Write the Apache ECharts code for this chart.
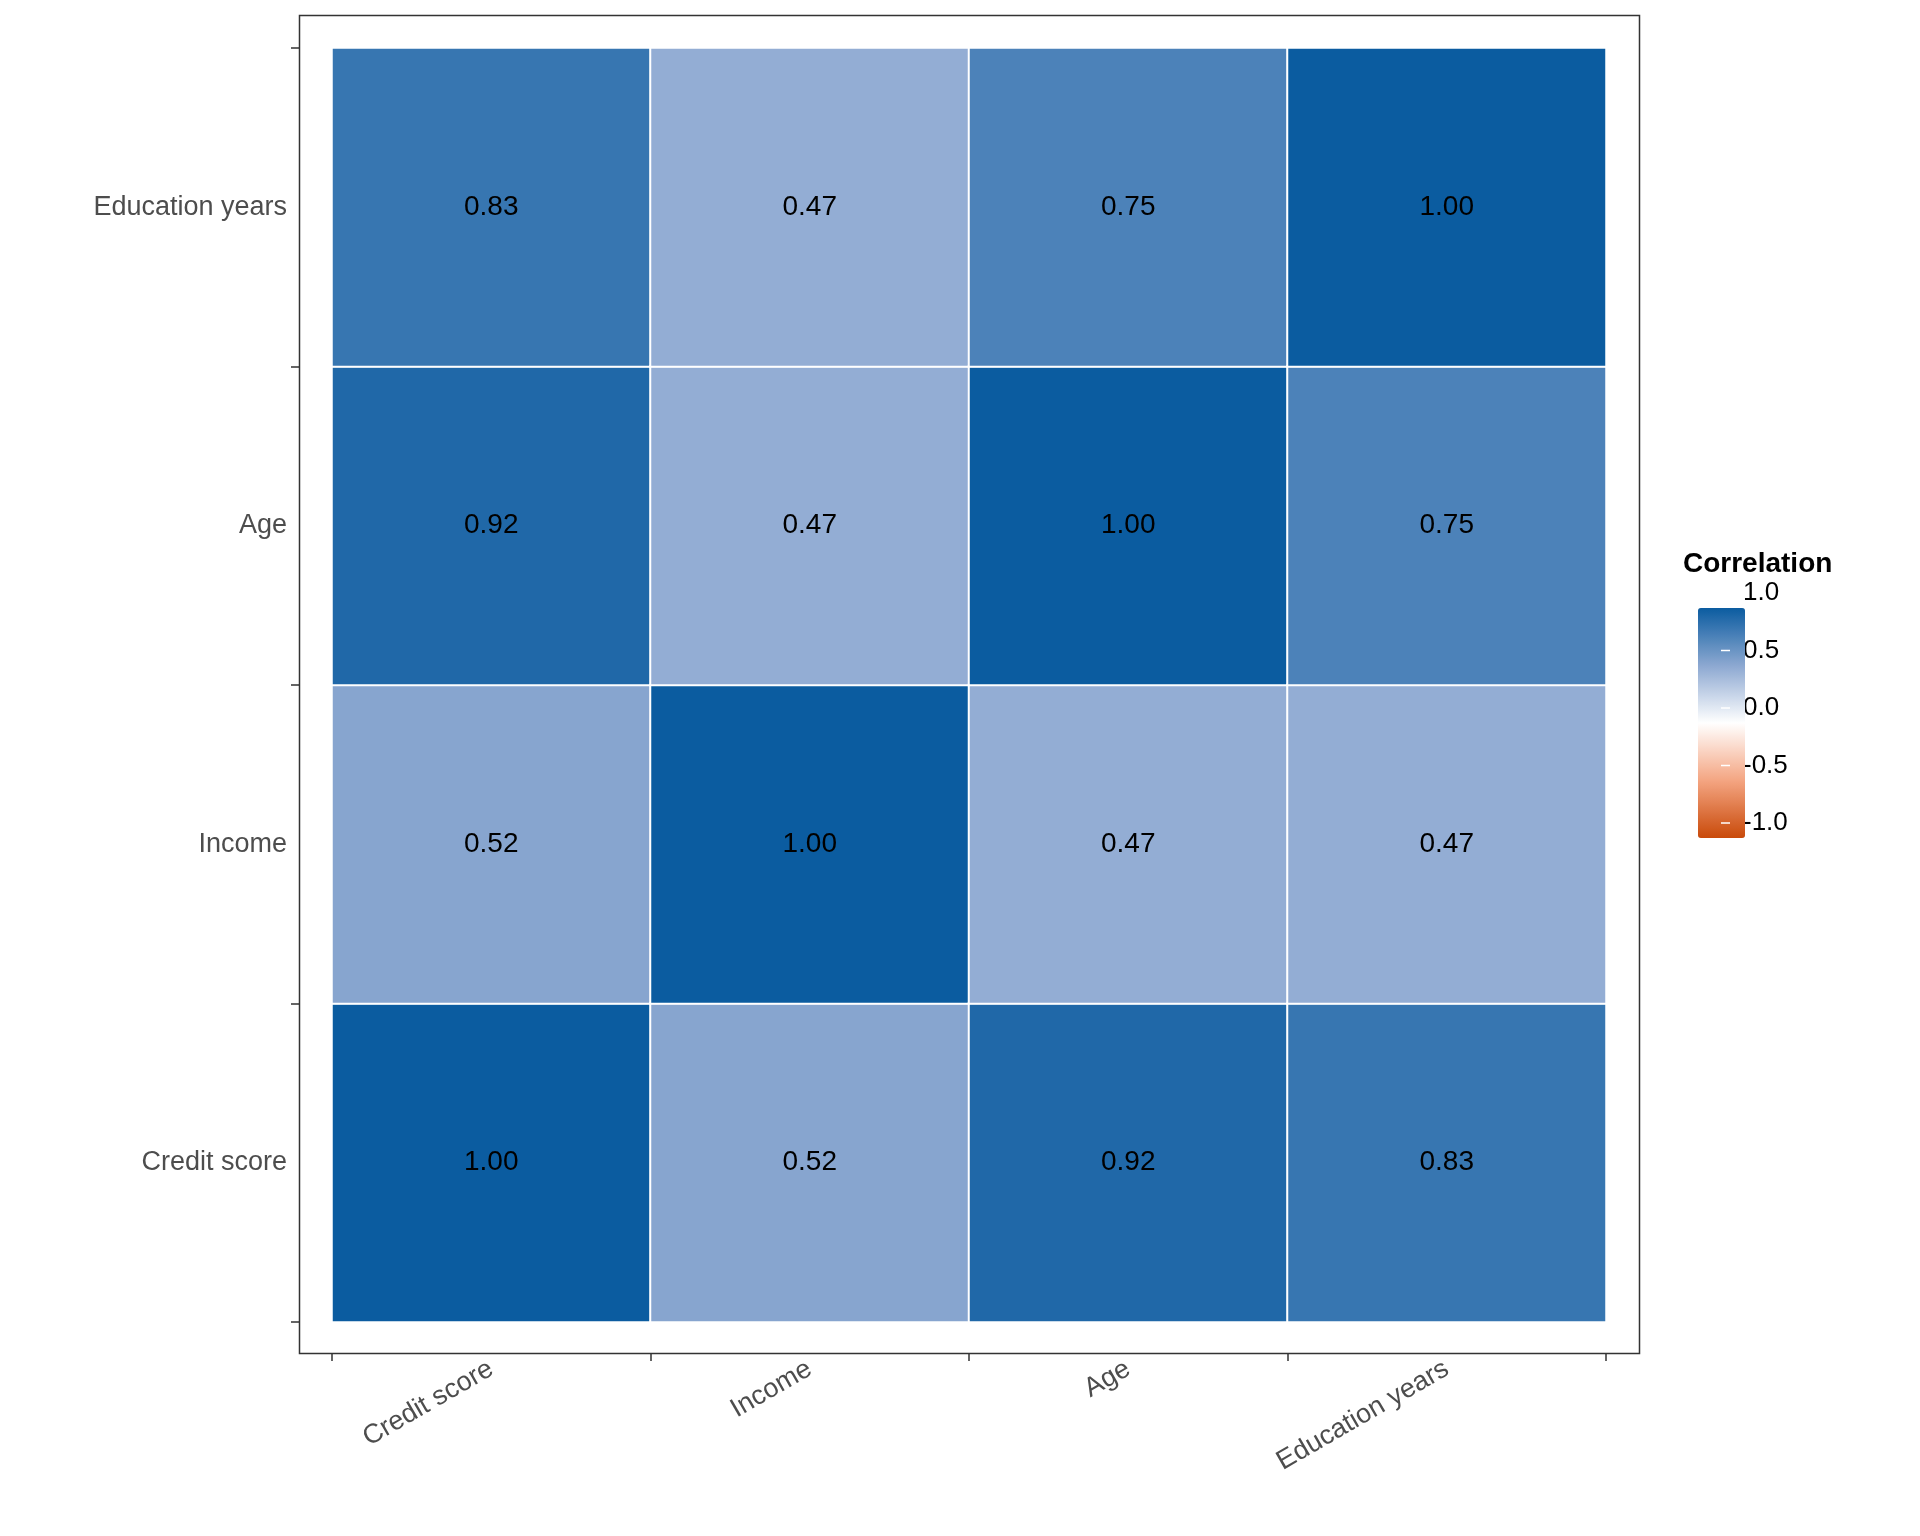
<!DOCTYPE html>
<html><head><meta charset="utf-8">
<script src="https://cdn.jsdelivr.net/npm/echarts@6/dist/echarts.min.js"></script>
<style>html,body{margin:0;padding:0;background:#fff}#c{width:1920px;height:1536px}</style>
</head><body><div id="c"></div>
<script>
const variables = ['Credit score','Income','Age','Education years'];
const corr = [
  [1.00,0.52,0.92,0.83],
  [0.52,1.00,0.47,0.47],
  [0.92,0.47,1.00,0.75],
  [0.83,0.47,0.75,1.00]
];
const legendTicks = [1.0,0.5,0.0,-0.5,-1.0];
const data = [];
for (let i=0;i<variables.length;i++) for (let j=0;j<variables.length;j++) data.push([i,j,corr[i][j]]);
const barTop=593, barH=230;
const graphic = [{type:'rect',shape:{x:299.5,y:15.5,width:1340,height:1338},style:{fill:'none',stroke:'#333',lineWidth:1.5},z:10},
 {type:'text',left:1683,top:550,style:{text:'Correlation',font:'bold 28px Liberation Sans, Arial',fill:'#000'}}];
legendTicks.forEach(v=>{
  const y = barTop + (1-v)/2*barH;
  graphic.push({type:'text',x:1743,y:y,style:{text:v.toFixed(1),font:'26px Liberation Sans, Arial',fill:'#000',verticalAlign:'middle'}});
  graphic.push({type:'line',shape:{x1:1683,y1:y,x2:1692,y2:y},style:{stroke:'#fff',lineWidth:1.5},z:100});
  graphic.push({type:'line',shape:{x1:1721,y1:y,x2:1730,y2:y},style:{stroke:'#fff',lineWidth:1.5},z:100});
});
const chart = echarts.init(document.getElementById('c'));
chart.setOption({
  animation:false,
  grid:{left:332,right:1920-1606,top:48,bottom:1536-1322},
  xAxis:{type:'category',data:variables,offset:31,axisLine:{show:false},
    axisTick:{show:true,length:8,lineStyle:{color:'#333',width:1.5}},splitLine:{show:false},
    axisLabel:{rotate:30,fontSize:27,color:'#4D4D4D',fontFamily:'Liberation Sans, Arial',margin:14}},
  yAxis:{type:'category',data:variables,offset:33,axisLine:{show:false},
    axisTick:{show:true,length:8,lineStyle:{color:'#333',width:1.5}},splitLine:{show:false},
    axisLabel:{fontSize:27,color:'#4D4D4D',fontFamily:'Liberation Sans, Arial',margin:12}},
  visualMap:{type:'continuous',min:-1,max:1,calculable:false,left:1683,top:barTop,itemWidth:47,itemHeight:barH,
    text:['',''],showLabel:false,
    inRange:{color:['#C94A0A','#F4A582','#FFFFFF','#8CA8D1','#0B5CA0']}},
  graphic:graphic,
  series:[{type:'heatmap',data:data,
    itemStyle:{borderColor:'#fff',borderWidth:2},
    label:{show:true,formatter:p=>p.value[2].toFixed(2),fontSize:28,color:'#000',fontFamily:'Liberation Sans, Arial'},
    emphasis:{disabled:true}}]
});
</script></body></html>
